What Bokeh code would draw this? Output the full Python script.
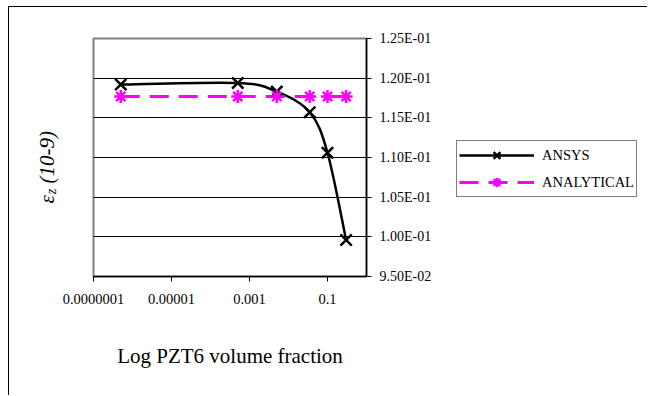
import numpy as np
from bokeh.plotting import figure
from bokeh.layouts import row
from bokeh.models import (FixedTicker, CustomJSTickFormatter, Range1d, Legend,
                          LegendItem, Label)
from bokeh.embed import file_html
from bokeh.resources import INLINE

# ---- data ----
volume_fraction = [5e-7, 5e-4, 5e-3, 0.035, 0.1, 0.3]
ansys = [0.1192, 0.1194, 0.1183, 0.1157, 0.1106, 0.0996]
analytical = [0.1177, 0.1177, 0.1177, 0.1177, 0.1177, 0.1177]

x_ticks = [1e-7, 1e-5, 1e-3, 1e-1]
x_tick_labels = ["0.0000001", "0.00001", "0.001", "0.1"]
y_ticks = [0.095, 0.100, 0.105, 0.110, 0.115, 0.120, 0.125]
y_tick_labels = ["9.50E-02", "1.00E-01", "1.05E-01", "1.10E-01",
                 "1.15E-01", "1.20E-01", "1.25E-01"]

FONT = "Liberation Serif"
ANSYS_COLOR = "black"
ANAL_COLOR = "#FF00FF"

H = 388
FT, FW, FH = 31, 273, 238
FB = H - FT - FH
LW = 50                  # left strip (y title)
ML, MR = 34, 89          # main chart side borders
MW = ML + FW + MR
GW = 192                 # legend strip

p = figure(width=MW, height=H, x_axis_type="log", y_axis_location="right",
           x_range=Range1d(1e-7, 1.0), y_range=Range1d(0.095, 0.125),
           output_backend="svg", toolbar_location=None,
           min_border_left=ML, min_border_top=FT,
           min_border_right=MR, min_border_bottom=FB)
p.background_fill_color = "white"
p.border_fill_color = "white"
p.outline_line_color = "#808080"
p.outline_line_width = 2

p.xgrid.visible = False
p.ygrid.grid_line_color = "black"
p.ygrid.grid_line_width = 1

# x axis
xa = p.xaxis[0]
xa.ticker = FixedTicker(ticks=x_ticks, minor_ticks=[])
xa.formatter = CustomJSTickFormatter(args=dict(tvals=x_ticks, tlabels=x_tick_labels), code="""
const i = tvals.findIndex(t => Math.abs(Math.log10(t) - Math.log10(tick)) < 1e-6);
return i >= 0 ? tlabels[i] : '';
""")
xa.axis_line_color = "black"
xa.axis_line_width = 1.5
xa.major_tick_out = 5
xa.major_tick_in = 0
xa.minor_tick_out = 0
xa.minor_tick_in = 0
xa.major_label_text_font = FONT
xa.major_label_text_font_size = "14.5px"
xa.major_label_text_color = "black"
xa.major_label_standoff = 12
xa.axis_label = "Log PZT6 volume fraction"
xa.axis_label_text_font = FONT
xa.axis_label_text_font_size = "21px"
xa.axis_label_text_font_style = "normal"
xa.axis_label_text_color = "black"
xa.axis_label_standoff = 37

# y axis (right)
ya = p.yaxis[0]
ya.ticker = FixedTicker(ticks=y_ticks, minor_ticks=[])
ya.formatter = CustomJSTickFormatter(args=dict(tvals=y_ticks, tlabels=y_tick_labels), code="""
const i = tvals.findIndex(t => Math.abs(t - tick) < 1e-9);
return i >= 0 ? tlabels[i] : '';
""")
ya.axis_line_color = "black"
ya.axis_line_width = 1.5
ya.major_tick_out = 5
ya.major_tick_in = 0
ya.minor_tick_out = 0
ya.minor_tick_in = 0
ya.major_label_text_font = FONT
ya.major_label_text_font_size = "14px"
ya.major_label_text_color = "black"
ya.major_label_standoff = 8

# smoothed ANSYS curve: Catmull-Rom style bezier segments in (log x, y)
u = np.log10(np.array(volume_fraction))
v = np.array(ansys)
n = len(u)
x0, y0, x1, y1, cx0, cy0, cx1, cy1 = ([] for _ in range(8))
for i in range(n - 1):
    i0 = max(i - 1, 0)
    i3 = min(i + 2, n - 1)
    c0u = u[i] + (u[i + 1] - u[i0]) / 6.0
    c0v = v[i] + (v[i + 1] - v[i0]) / 6.0
    c1u = u[i + 1] - (u[i3] - u[i]) / 6.0
    c1v = v[i + 1] - (v[i3] - v[i]) / 6.0
    x0.append(10 ** u[i]); y0.append(v[i])
    x1.append(10 ** u[i + 1]); y1.append(v[i + 1])
    cx0.append(10 ** c0u); cy0.append(c0v)
    cx1.append(10 ** c1u); cy1.append(c1v)

line_ansys = dict(line_color=ANSYS_COLOR, line_width=2.5)
line_anal = dict(line_color=ANAL_COLOR, line_width=3, line_dash="19 10")
mk_ansys = dict(marker="x", size=16, line_color=ANSYS_COLOR, line_width=2.5)
mk_anal = dict(marker="asterisk", size=13, line_color=ANAL_COLOR, line_width=2.5)

p.bezier(x0=x0, y0=y0, x1=x1, y1=y1, cx0=cx0, cy0=cy0, cx1=cx1, cy1=cy1, **line_ansys)
p.line(volume_fraction, analytical, **line_anal)
p.scatter(volume_fraction, ansys, **mk_ansys)
p.scatter(volume_fraction, analytical, **mk_anal)


def strip(width):
    f = figure(width=width, height=H, x_range=Range1d(0, width),
               y_range=Range1d(0, FH), x_axis_location=None, y_axis_location=None,
               output_backend="svg", toolbar_location=None,
               min_border_left=0, min_border_right=0,
               min_border_top=FT, min_border_bottom=FB)
    f.grid.visible = False
    f.outline_line_color = None
    f.background_fill_color = "white"
    f.border_fill_color = "white"
    return f


# ---- left strip with the y title (epsilon with subscript z) ----
t = strip(LW)
common = dict(angle=np.pi / 2, text_font=FONT, text_font_style="italic",
              text_color="black", text_align="left", text_baseline="alphabetic")
t.add_layout(Label(x=37, y=73, text="ε", text_font_size="21px", **common))
t.add_layout(Label(x=42, y=82.3, text="z", text_font_size="14px", **common))
t.add_layout(Label(x=37, y=93, text="(10-9)", text_font_size="21px", **common))

# ---- legend strip ----
g = strip(GW)
gl_ansys = g.line([np.nan], [np.nan], **line_ansys)
gm_ansys = g.scatter([np.nan], [np.nan], **mk_ansys)
gl_anal = g.line([np.nan], [np.nan], **line_anal)
gm_anal = g.scatter([np.nan], [np.nan], **mk_anal)
legend = Legend(items=[
    LegendItem(label="ANSYS", renderers=[gl_ansys, gm_ansys]),
    LegendItem(label="ANALYTICAL", renderers=[gl_anal, gm_anal]),
], location=(1, 79))
legend.border_line_color = "black"
legend.border_line_width = 1
legend.background_fill_color = "white"
legend.padding = 2
legend.spacing = 3
legend.margin = 0
legend.glyph_width = 75
legend.glyph_height = 24
legend.label_height = 24
legend.label_standoff = 8
legend.label_text_font = FONT
legend.label_text_font_size = "14.5px"
legend.label_text_color = "black"
g.add_layout(legend, "center")

lay = row(t, p, g, spacing=0)
lay.styles = {"border-left": "1px solid black", "border-top": "1px solid black",
              "margin-left": "8px", "margin-top": "6px"}

open("out.html", "w").write(file_html(lay, INLINE))
